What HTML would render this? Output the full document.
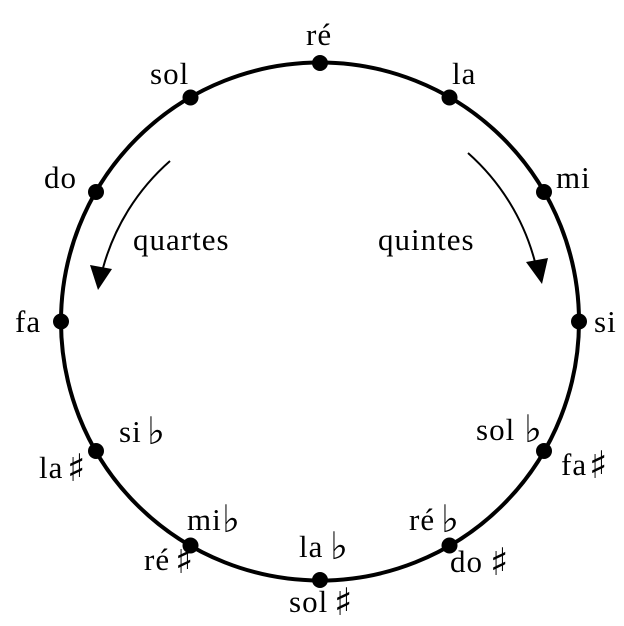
<!DOCTYPE html>
<html><head><meta charset="utf-8"><style>
html,body{margin:0;padding:0;background:#fff;}
svg{display:block;}
text{font-family:"Liberation Serif","DejaVu Serif",serif;font-size:31px;letter-spacing:1px;fill:#000;}
.s{font-family:"DejaVu Sans",sans-serif;font-size:38px;letter-spacing:0;}
</style></head><body>
<svg width="624" height="626" viewBox="0 0 624 626" xmlns="http://www.w3.org/2000/svg">
<circle cx="320" cy="321.5" r="259" fill="none" stroke="#000" stroke-width="4"/>
<g fill="#000">
<circle cx="320" cy="63" r="8"/>
<circle cx="449.5" cy="97.5" r="8"/>
<circle cx="544" cy="192" r="8"/>
<circle cx="579" cy="321.5" r="8"/>
<circle cx="544" cy="451" r="8"/>
<circle cx="449.5" cy="545.5" r="8"/>
<circle cx="320" cy="580" r="8"/>
<circle cx="190.5" cy="545.5" r="8"/>
<circle cx="96" cy="451" r="8"/>
<circle cx="61" cy="321.5" r="8"/>
<circle cx="96" cy="192" r="8"/>
<circle cx="190.5" cy="97.5" r="8"/>
</g>
<path d="M170,161 A220,220 0 0 0 103,268" fill="none" stroke="#000" stroke-width="2"/>
<polygon points="90,265 112,269 98,290" fill="#000"/>
<path d="M468,153 A220,220 0 0 1 535,262" fill="none" stroke="#000" stroke-width="2"/>
<polygon points="526,262 548,258 542,284" fill="#000"/>
<text x="306" y="45">ré</text>
<text x="150" y="84">sol</text>
<text x="452" y="84">la</text>
<text x="556" y="188">mi</text>
<text x="44" y="188">do</text>
<text x="15" y="332">fa</text>
<text x="594" y="332">si</text>
<text x="133" y="250">quartes</text>
<text x="378" y="250">quintes</text>

<text x="119" y="442">si</text><text class="s" x="147" y="444">♭</text>
<text x="39" y="478">la</text><text class="s" x="67" y="481">♯</text>
<text x="476" y="440">sol</text><text class="s" x="524" y="442">♭</text>
<text x="561" y="475">fa</text><text class="s" x="589" y="478">♯</text>
<text x="187" y="530">mi</text><text class="s" x="222" y="532">♭</text>
<text x="144" y="570">ré</text><text class="s" x="175" y="573">♯</text>
<text x="299" y="557">la</text><text class="s" x="330" y="559">♭</text>
<text x="289" y="612">sol</text><text class="s" x="334" y="615">♯</text>
<text x="409" y="530">ré</text><text class="s" x="441" y="532">♭</text>
<text x="450" y="572">do</text><text class="s" x="490" y="575">♯</text>
</svg>
</body></html>
